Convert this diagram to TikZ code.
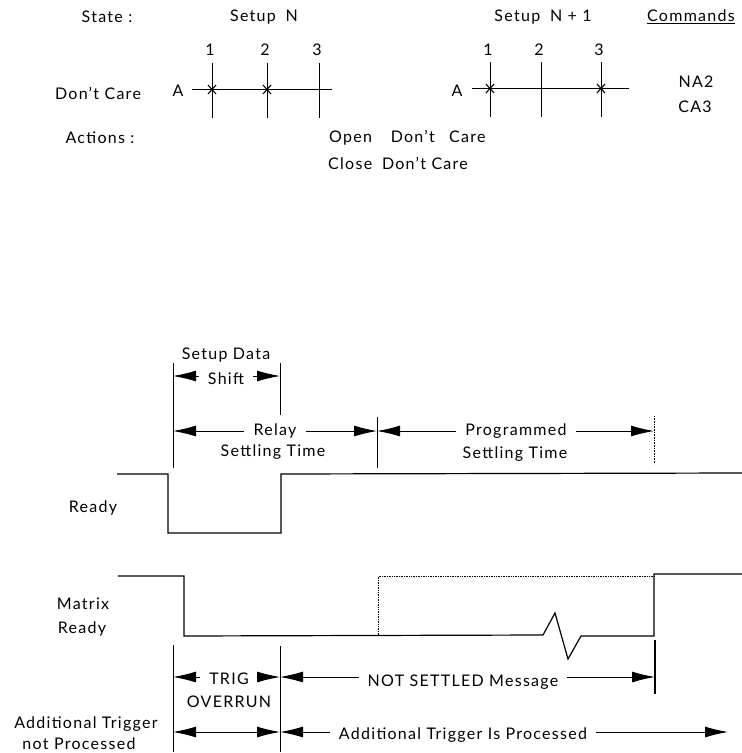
\documentclass[tikz,border=0pt]{standalone}
\usepackage{fontspec}
\setmainfont[LetterSpace=8]{Lato}
\usetikzlibrary{arrows.meta}
\tikzset{
    lbl/.style={font=\fontsize{16}{18}\selectfont, inner sep=0pt},
    gaplbl/.style={lbl, inner xsep=9pt},
    signal/.style={line width=1.2pt},
    tick/.style={line width=0.9pt},
    dimarrow/.style={line width=0.9pt, -{Latex[length=23pt,width=11pt]}},
    xmark/.style={line width=1.1pt}
}
\begin{document}
\begin{tikzpicture}[x=1pt, y=-1pt]
\useasboundingbox (0, 0) rectangle (742, 753);

% Header row
\node[lbl] (state) at (107, 17) {State :};
\node[lbl] (setupN) at (264, 17) {Setup\; N};
\node[lbl] (setupNN) at (543, 17) {Setup\; N + 1};
\node[lbl] (commands) at (691, 17) {\underline{Commands}};

% Setup N crosspoints
\foreach \i/\x in {1/210, 2/265, 3/317} {
    \node[lbl] (numA\i) at (\x, 50) {\i};
}
\foreach \x in {212, 267, 319} {
    \draw[tick] (\x, 63) -- (\x, 118);
}
\draw[tick] (192, 89) -- (332, 89);
\foreach \x in {212, 267} {
    \draw[xmark] (\x-4, 85) -- (\x+4, 94);
    \draw[xmark] (\x+4, 85) -- (\x-4, 94);
}
\node[lbl] (dontcare) at (98, 93) {Don't Care};
\node[lbl] (rowA) at (178, 91) {A};

% Setup N+1 crosspoints
\foreach \i/\x in {1/488, 2/539, 3/599} {
    \node[lbl] (numB\i) at (\x, 50) {\i};
}
\foreach \x in {490, 541, 601} {
    \draw[tick] (\x, 62) -- (\x, 117);
}
\draw[tick] (472, 88) -- (629, 88);
\foreach \x in {490, 601} {
    \draw[xmark] (\x-4, 84) -- (\x+4, 93);
    \draw[xmark] (\x+4, 84) -- (\x-4, 93);
}
\node[lbl] (rowB) at (457, 91) {A};
\node[lbl] (na) at (696, 82) {NA2};
\node[lbl] (ca) at (695, 107) {CA3};

% Actions
\node[lbl] (actions) at (100, 138) {Actions :};
\node[lbl, anchor=west] (open) at (329, 138) {Open\;\;\; Don't\;\; Care};
\node[lbl, anchor=west] (close) at (328, 163) {Close\; Don't Care};

% Ready signal
\draw[signal] (117, 474) -- (168, 474) -- (168, 533) -- (281, 533) -- (281, 474) -- (742, 473);
\node[lbl] (ready) at (93, 508) {Ready};

% Matrix Ready signal
\draw[signal] (118, 576) -- (184, 576) -- (184, 636) -- (543, 635) -- (555, 613) -- (568, 659) -- (581, 636) -- (654, 636) -- (654, 574) -- (742, 574);
\draw[densely dotted, line width=0.7pt] (378, 635) -- (378, 576) -- (654, 576);
\node[lbl] (matrix) at (83, 604) {Matrix};
\node[lbl] (matrixready) at (82, 629) {Ready};

% Upper timing ticks
\coordinate (shiftL) at (173, 376);
\coordinate (shiftR) at (280, 376);
\coordinate (relayL) at (173, 431);
\coordinate (relayR) at (377, 431);
\coordinate (progL) at (377, 431);
\coordinate (progR) at (654, 431);
\draw[tick] (173, 363) -- (173, 468);
\draw[tick] (280, 363) -- (280, 415);
\draw[tick] (377, 417) -- (377, 468);
\draw[densely dotted, line width=0.6pt] (654, 416) -- (654, 464);

% Upper timing labels
\node[lbl] (setupdata) at (226, 355) {Setup Data};
\node[gaplbl] (shift) at (226, 379) {Shift};
\node[gaplbl] (relay) at (275, 431) {Relay};
\node[lbl] (relaytime) at (273, 452) {Settling Time};
\node[gaplbl] (prog) at (516, 431) {Programmed};
\node[lbl] (progtime) at (515, 454) {Settling Time};
\draw[dimarrow] (shift.west |- shiftL) -- (shiftL);
\draw[dimarrow] (shift.east |- shiftR) -- (shiftR);
\draw[dimarrow] (relay) -- (relayL);
\draw[dimarrow] (relay) -- (relayR);
\draw[dimarrow] (prog) -- (progL);
\draw[dimarrow] (prog) -- (progR);

% Lower timing ticks
\coordinate (trigL) at (173, 677);
\coordinate (trigR) at (280, 677);
\coordinate (notsetL) at (280, 677);
\coordinate (notsetR) at (655, 677);
\coordinate (nprocL) at (173, 732);
\coordinate (nprocR) at (280, 732);
\coordinate (procL) at (280, 732);
\coordinate (procR) at (728, 732);
\draw[tick] (173, 645) -- (173, 752);
\draw[tick] (280, 646) -- (280, 752);
\draw[signal] (655, 640) -- (655, 694);

% Lower timing labels
\node[gaplbl] (trig) at (229, 679) {TRIG};
\node[lbl] (overrun) at (229, 702) {OVERRUN};
\node[gaplbl] (notset) at (463, 682) {NOT SETTLED Message};
\node[gaplbl] (proc) at (463, 735) {Additional Trigger Is Processed};
\node[lbl] (addtrig) at (86, 724) {Additional Trigger};
\node[lbl] (notproc) at (79, 744) {not Processed};
\draw[dimarrow] (trig.west |- trigL) -- (trigL);
\draw[dimarrow] (trig.east |- trigR) -- (trigR);
\draw[dimarrow] (notset.west |- notsetL) -- (notsetL);
\draw[dimarrow] (notset.east |- notsetR) -- (notsetR);
\draw[dimarrow, {Latex[length=23pt,width=11pt]}-{Latex[length=23pt,width=11pt]}] (nprocL) -- (nprocR);
\draw[dimarrow] (proc.west |- procL) -- (procL);
\draw[dimarrow] (proc.east |- procR) -- (procR);

\end{tikzpicture}
\end{document}
